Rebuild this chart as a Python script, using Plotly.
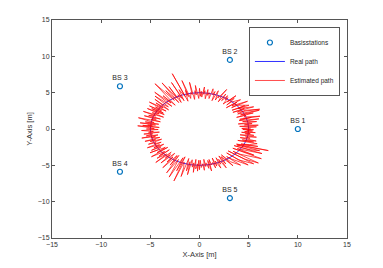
import math
import plotly.graph_objects as go

# Base stations
bs_x = [10.0, 3.09, -8.09, -8.09, 3.09]
bs_y = [0.0, 9.51, 5.88, -5.88, -9.51]
bs_labels = ["BS 1", "BS 2", "BS 3", "BS 4", "BS 5"]

# Real path (circle of radius 5)
real_x = [5.0, 4.92, 4.70, 4.33, 3.83, 3.21, 2.50, 1.71, 0.87, 0.0, -0.87, -1.71, -2.50,
          -3.21, -3.83, -4.33, -4.70, -4.92, -5.0, -4.92, -4.70, -4.33, -3.83, -3.21, -2.50,
          -1.71, -0.87, 0.0, 0.87, 1.71, 2.50, 3.21, 3.83, 4.33, 4.70, 4.92, 5.0]
real_y = [0.0, 0.87, 1.71, 2.50, 3.21, 3.83, 4.33, 4.70, 4.92, 5.0, 4.92, 4.70, 4.33,
          3.83, 3.21, 2.50, 1.71, 0.87, 0.0, -0.87, -1.71, -2.50, -3.21, -3.83, -4.33,
          -4.70, -4.92, -5.0, -4.92, -4.70, -4.33, -3.83, -3.21, -2.50, -1.71, -0.87, 0.0]

# Estimated path: estimated radius and bearing (deg)
est_radius = [
    5.2, 4.3, 5.8, 4.9, 4.1, 6.0, 4.6, 5.4, 4.0, 5.9, 5.0, 4.5, 6.2, 4.2, 5.5, 4.3, 6.4, 4.8, 5.1, 4.1, 5.9, 4.6, 6.6, 4.4, 5.3,
    6.7, 4.5, 5.4, 4.1, 6.3, 4.8, 5.6, 4.2, 6.0, 5.0, 4.4, 6.2, 4.6, 5.3, 4.0, 5.8, 4.9, 4.3, 5.5, 4.7, 5.9, 4.2, 5.2, 4.8, 5.4,
    4.5, 5.5, 4.2, 5.2, 6.1, 4.7, 5.0, 4.3, 5.6, 4.8, 4.1, 5.4, 4.9, 5.7, 4.3, 5.1, 4.7, 5.5, 4.2, 5.3, 4.8, 5.8, 4.4, 5.2, 4.5,
    5.6, 4.2, 6.0, 4.7, 5.3, 4.1, 6.5, 4.8, 5.1, 4.3, 6.9, 4.6, 5.5, 4.0, 8.1, 4.7, 5.8, 4.2, 7.0, 4.6, 5.2, 4.1, 6.6, 4.8, 7.4,
    4.2, 6.3, 4.7, 5.5, 7.7, 4.1, 5.9, 4.6, 6.8, 4.2, 5.3, 6.4, 4.4, 5.0, 6.1, 4.1, 5.7, 4.7, 6.3, 4.2, 5.4, 4.6, 6.0, 4.3, 5.6,
    4.1, 6.0, 4.6, 5.3, 4.0, 6.2, 4.8, 5.5, 4.2, 5.9, 4.6, 5.1, 4.1, 6.4, 4.7, 5.6, 4.2, 6.1, 4.5, 5.3, 4.8, 5.8, 4.1, 6.3, 4.6,
    5.4, 4.2, 5.9, 4.7, 5.2, 4.1, 5.7, 4.8, 5.5, 4.3, 6.0, 4.6, 5.1, 4.2, 5.8, 4.7, 5.3, 4.1, 5.6, 4.8, 5.0, 4.3, 5.9, 4.6, 5.3,
    4.2, 5.7, 4.6, 5.2, 6.0, 4.3, 5.4, 4.1, 6.2, 4.7, 5.5, 4.2, 5.9, 4.8, 6.4, 4.3, 5.3, 4.6, 6.1, 4.2, 5.6, 4.7, 6.5, 4.3, 5.8,
    4.2, 6.9, 4.7, 5.6, 7.3, 4.3, 6.2, 4.1, 7.6, 4.8, 5.5, 6.8, 4.2, 5.9, 4.6, 6.4, 4.3, 5.3, 4.7, 6.0, 4.2, 5.5, 4.8, 5.8, 4.3,
    5.6, 4.3, 5.3, 4.8, 5.7, 4.2, 5.2, 4.7, 5.5, 4.4, 5.9, 4.3, 5.1, 4.8, 5.6, 4.2, 5.4, 4.7, 5.8, 4.3, 5.3, 4.6, 6.0, 4.2, 5.5,
    4.4, 6.1, 4.2, 5.5, 6.5, 4.7, 5.2, 7.0, 4.3, 5.8, 7.3, 4.2, 6.2, 7.6, 4.6, 5.4, 7.5, 4.3, 6.6, 4.7, 7.2, 4.2, 5.9, 6.8, 4.4,
    7.6, 4.3, 6.4, 4.7, 5.5, 6.2, 4.2, 5.8, 4.6, 6.0, 4.3, 5.3, 4.8, 5.9, 4.2, 5.6, 4.7, 5.2, 4.3, 5.7, 4.6, 5.4, 4.8, 5.5, 4.4,
    5.2,
]
est_bearing = [
    0, 1, 3, 4, 5, 5, 7, 8, 10, 10, 12, 13, 13, 16, 17, 18, 16, 20, 22, 23, 22, 25, 23, 28, 29,
    24, 31, 32, 34, 29, 36, 35, 38, 33, 41, 42, 38, 44, 44, 47, 44, 49, 50, 50, 53, 51, 55, 56, 57, 58,
    60, 61, 63, 64, 63, 66, 67, 68, 70, 71, 72, 73, 74, 76, 77, 79, 80, 81, 82, 84, 85, 85, 87, 88, 89,
    90, 91, 94, 94, 95, 97, 99, 99, 100, 102, 105, 104, 105, 107, 110, 108, 111, 112, 114, 113, 115, 117, 118, 118, 121,
    120, 123, 123, 124, 126, 127, 129, 129, 132, 132, 134, 135, 136, 138, 138, 140, 141, 142, 144, 144, 146, 147, 148, 149, 150,
    151, 152, 153, 155, 156, 157, 158, 160, 161, 162, 163, 165, 166, 166, 169, 170, 171, 172, 173, 174, 175, 175, 177, 176, 179,
    180, 181, 182, 184, 185, 186, 187, 188, 190, 191, 192, 193, 194, 196, 197, 198, 199, 200, 202, 203, 204, 205, 206, 208, 209,
    210, 211, 212, 214, 213, 216, 217, 218, 218, 221, 222, 223, 223, 226, 226, 228, 229, 230, 230, 233, 234, 235, 235, 238, 239,
    240, 241, 243, 244, 245, 247, 248, 249, 250, 251, 253, 254, 255, 257, 258, 259, 260, 262, 263, 264, 265, 266, 268, 268, 269,
    270, 271, 272, 274, 275, 276, 277, 278, 280, 281, 282, 283, 284, 286, 287, 288, 289, 290, 292, 293, 294, 295, 297, 298, 299,
    300, 304, 302, 305, 310, 306, 308, 315, 310, 313, 319, 314, 318, 322, 318, 320, 327, 322, 327, 325, 332, 327, 331, 334, 330,
    337, 331, 338, 334, 337, 341, 338, 342, 341, 344, 344, 346, 347, 349, 349, 351, 352, 353, 354, 355, 356, 357, 358, 359, 359,
    360,
]
est_x = [r * math.cos(math.radians(a)) for r, a in zip(est_radius, est_bearing)]
est_y = [r * math.sin(math.radians(a)) for r, a in zip(est_radius, est_bearing)]

tick_vals = [-15, -10, -5, 0, 5, 10, 15]

fig = go.Figure()
fig.add_trace(go.Scatter(
    x=bs_x, y=bs_y, mode="markers+text", name="Basisstations",
    text=bs_labels, textposition="top center",
    textfont=dict(size=7, color="#262626"),
    marker=dict(symbol="circle-open", size=5, color="#0072BD", line=dict(width=1.2)),
))
fig.add_trace(go.Scatter(
    x=real_x, y=real_y, mode="lines", name="Real path",
    line=dict(color="#3030FF", width=1),
))
fig.add_trace(go.Scatter(
    x=est_x, y=est_y, mode="lines", name="Estimated path",
    line=dict(color="rgba(255,0,0,0.7)", width=1),
))

axis_common = dict(
    range=[-15, 15], tickvals=tick_vals, ticks="inside", ticklen=3,
    showline=True, mirror="ticks", linecolor="#555555", linewidth=1,
    tickcolor="#555555", showgrid=False, zeroline=False, automargin=False,
    tickfont=dict(size=7, color="#333333"),
)
fig.update_xaxes(title=dict(text="X-Axis [m]", font=dict(size=7.5, color="#333333"), standoff=4), **axis_common)
fig.update_yaxes(title=dict(text="Y-Axis [m]", font=dict(size=7.5, color="#333333"), standoff=4), **axis_common)

# page body adds an 8px offset, so the figure is a bit smaller than the window
fig.update_layout(
    width=375, height=260,
    margin=dict(l=44, r=36, t=12, b=30),
    paper_bgcolor="white", plot_bgcolor="white",
    font=dict(family="Liberation Sans, Arial, sans-serif"),
    showlegend=True,
    legend=dict(
        x=0.976, y=0.968, xanchor="right", yanchor="top",
        bgcolor="white", bordercolor="#555555", borderwidth=1,
        font=dict(size=6.5, color="#262626"),
        itemwidth=30, tracegroupgap=0,
    ),
)

fig.write_html("out.html")
